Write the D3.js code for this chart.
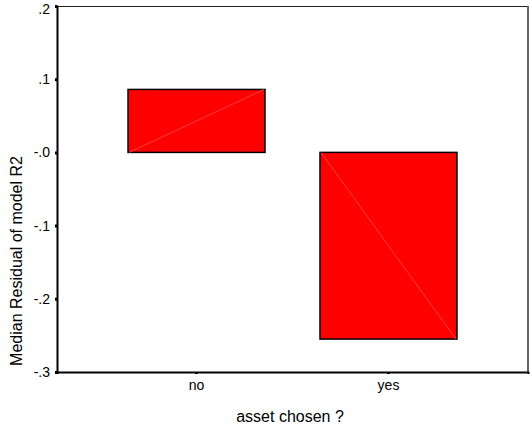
<!DOCTYPE html>
<html><head><meta charset="utf-8">
<script src="https://cdn.jsdelivr.net/npm/d3@7"></script>
<style>body{margin:0;background:#fff}svg{display:block}text{font-family:"Liberation Sans",Arial,sans-serif;fill:#000}</style>
</head><body>
<script>
const categories = ["no", "yes"];
const medians = [0.086, -0.255];
const yTicks = [0.2, 0.1, 0.0, -0.1, -0.2, -0.3];
const yTickLabels = [".2", ".1", "-.0", "-.1", "-.2", "-.3"];
const xTitle = "asset chosen ?";
const yTitle = "Median Residual of model R2";

const W = 530, H = 435;
const L = 57, T = 6, R = 528, B = 372;
const svg = d3.select("body").append("svg").attr("width", W).attr("height", H);

const y = d3.scaleLinear().domain([-0.3, 0.2]).range([B, T]);
const x = d3.scaleBand().domain(categories).range([L, R]).paddingInner(0.2865).paddingOuter(0.37);

// frame
svg.append("line").attr("x1", L).attr("x2", R).attr("y1", T + 0.5).attr("y2", T + 0.5).attr("stroke", "#222").attr("stroke-width", 1.2);
svg.append("line").attr("x1", R).attr("x2", R).attr("y1", T).attr("y2", B).attr("stroke", "#666").attr("stroke-width", 2);

// bars
const data = categories.map((c, i) => ({c, v: medians[i]}));
const g = svg.append("g");
g.selectAll("rect.bar").data(data).enter().append("rect")
  .attr("x", d => x(d.c)).attr("width", x.bandwidth())
  .attr("y", d => Math.min(y(d.v), y(0))).attr("height", d => Math.abs(y(d.v) - y(0)))
  .attr("fill", "#ff0000").attr("stroke", "#000").attr("stroke-width", 1.5);
g.selectAll("line.diag").data(data).enter().append("line")
  .attr("x1", d => x(d.c) + 1).attr("y1", y(0))
  .attr("x2", d => x(d.c) + x.bandwidth() - 1).attr("y2", d => y(d.v))
  .attr("stroke", "#ff5050").attr("stroke-width", 0.8);

// y axis
const ya = svg.append("g").attr("transform", `translate(${L},0)`)
  .call(d3.axisLeft(y).tickValues(yTicks).tickSize(2).tickPadding(5)
    .tickFormat((d, i) => yTickLabels[i]));
ya.select(".domain").attr("stroke", "#000").attr("stroke-width", 2);
ya.selectAll(".tick line").attr("stroke", "#000").attr("stroke-width", 3);
ya.selectAll(".tick text").attr("font-size", 14).attr("font-family", "Liberation Sans, Arial, sans-serif")
  .attr("dy", (d, i) => i === 0 ? "0.55em" : "0.32em");

// x axis
const xa = svg.append("g").attr("transform", `translate(0,${B})`)
  .call(d3.axisBottom(x).tickSize(2).tickPadding(6));
xa.select(".domain").attr("stroke", "#000").attr("stroke-width", 2);
xa.selectAll(".tick line").attr("stroke", "#000").attr("stroke-width", 3);
xa.selectAll(".tick text").attr("font-size", 14).attr("font-family", "Liberation Sans, Arial, sans-serif");

// titles
svg.append("text").attr("x", 290).attr("y", 422).attr("text-anchor", "middle")
  .attr("font-size", 16).text(xTitle);
svg.append("text").attr("transform", `translate(22,261) rotate(-90)`).attr("text-anchor", "middle")
  .attr("font-size", 16).text(yTitle);
</script>
</body></html>
